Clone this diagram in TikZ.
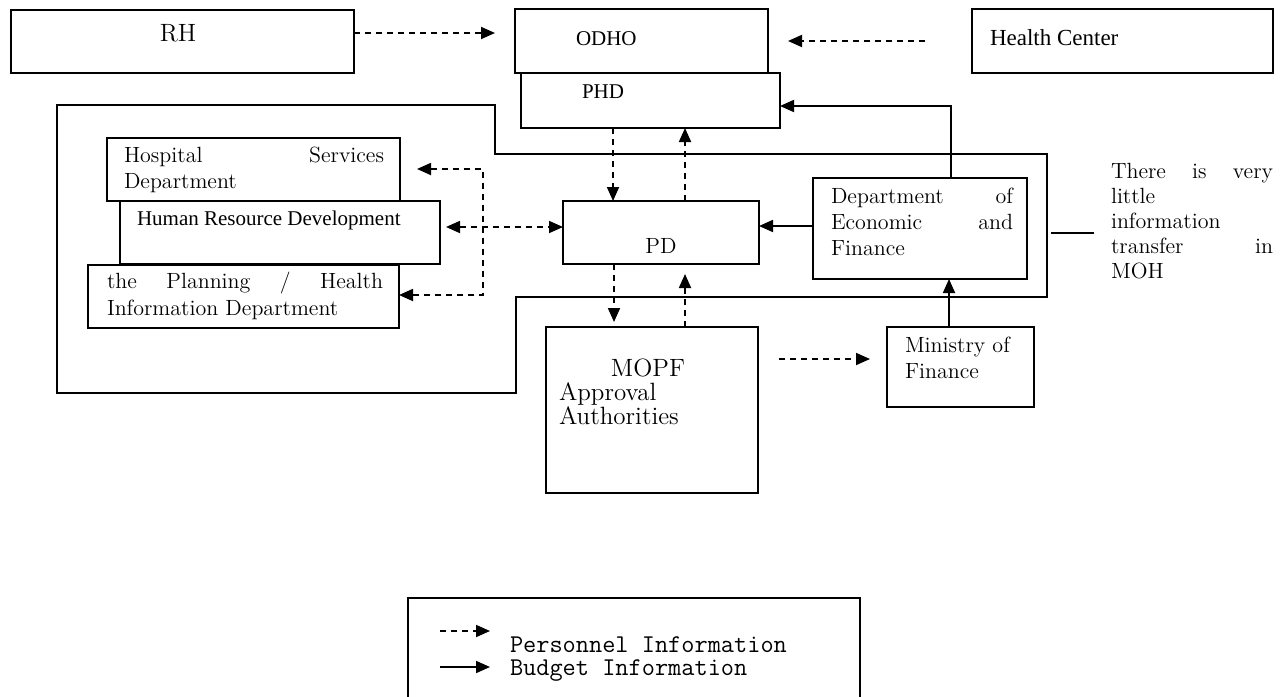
\documentclass[tikz,border=0pt]{standalone}
\usepackage{fontspec}
\newfontfamily\timesf{Liberation Serif}
\usetikzlibrary{arrows.meta,fit}
% justified text block: width, baselineskip, text (first baseline = node base)
\newcommand\lblock[3]{\parbox[t]{#1}{\fontsize{11}{#2}\selectfont #3}}
\begin{document}
\begin{tikzpicture}[x=0.5pt,y=-0.5pt,
  >={Triangle[length=7pt,width=6pt]},
  box/.style={draw, line width=0.9pt, inner sep=0pt, outer sep=0pt},
  conn/.style={line width=0.9pt, ->},
  pers/.style={conn, dash pattern=on 3pt off 2.5pt},
  budg/.style={conn},
  txt/.style={inner sep=0pt, outer sep=0pt, anchor=base west},
  tms/.style={txt, font=\timesf\fontsize{10.5}{12.5}\selectfont},
]
\useasboundingbox (0,0) rectangle (1284,696);
\clip (0,0) rectangle (1284,696);

% ---------- boxes ----------
\node[box, fit={(11,10)(354,73)}] (rh) {};
\node[box, fit={(515,9)(768,73)}] (odho) {};
\node[box, fit={(521,73)(780,128)}] (phd) {};
\node[box, fit={(972,9)(1273,73)}] (hc) {};
\node[box, fit={(107,138)(400,201)}] (hosp) {};
\node[box, fit={(120,201)(440,264)}] (hrd) {};
\node[box, fit={(88,265)(399,328)}] (plan) {};
\node[box, fit={(563,201)(759,264)}] (pd) {};
\node[box, fit={(813,178)(1027,279)}] (ef) {};
\node[box, fit={(546,327)(758,493)}] (mopf) {};
\node[box, fit={(887,327)(1034,407)}] (mof) {};
\node[box, fit={(408,598)(860,706)}] (legend) {};

% ---------- texts ----------
\node[inner sep=0pt, anchor=base, font=\fontsize{12.5}{14}\selectfont] (rh-t) at (178,41) {RH};
\node[tms] (odho-t) at (576,45) {ODHO};
\node[tms] (phd-t) at (582,98) {PHD};
\node[tms, font=\timesf\fontsize{11.5}{13}\selectfont] (hc-t) at (990,46) {Health Center};
\node[txt] (hosp-t) at (124,162) {\lblock{130pt}{13pt}{Hospital\hfill Services\newline Department}};
\node[tms] (hrd-t) at (137,225) {Human Resource Development};
\node[txt] (plan-t) at (107,288) {\lblock{138pt}{13.5pt}{the\hfill Planning\hfill /\hfill Health\newline Information Department}};
\node[inner sep=0pt, anchor=base, font=\fontsize{11}{13}\selectfont] (pd-t) at (661,253) {PD};
\node[txt] (ef-t) at (831,203) {\lblock{91pt}{13pt}{Department\hfill of\newline Economic\hfill and\newline Finance}};
\node[txt] (mof-t) at (905,352) {\lblock{70pt}{13pt}{Ministry of\newline Finance}};
\node[inner sep=0pt, anchor=base, font=\fontsize{12.5}{13}\selectfont] (mopf-t) at (648,376) {MOPF};
\node[txt] (mopf-t2) at (559,400) {\parbox[t]{72pt}{\fontsize{12.5}{10.5}\selectfont Approval\newline Authorities}};
\node[txt] (note) at (1111,178) {\lblock{81pt}{12.5pt}{There\hfill is\hfill very\newline little\newline information\newline transfer\hfill in\newline MOH}};

% ---------- MOH boundary ----------
\draw[line width=0.9pt] (57,105) -- (495,105) -- (495,154) -- (1047,154) -- (1047,297)
  -- (516,297) -- (516,393) -- (57,393) -- cycle;
\coordinate (moh-e) at (1051,233);
\draw[line width=0.9pt, shorten >=8.5pt] (moh-e) -- (moh-e -| note.west);

% ---------- personnel information ----------
\draw[pers, shorten >=10pt] ([yshift=4.25pt]rh.east) -- ([yshift=4.25pt]rh.east -| odho.west);
\draw[pers, shorten <=23.5pt, shorten >=10pt] (hc.west) -- (hc.west -| odho.east);
\draw[pers] ([xshift=-24pt]pd.north |- phd.south) -- ([xshift=-24pt]pd.north);
\draw[pers] ([xshift=12pt]pd.north) -- ([xshift=12pt]pd.north |- phd.south);
\draw[pers, shorten >=2.5pt] ([xshift=-23.5pt]pd.south) -- ([xshift=-23.5pt]pd.south |- mopf.north);
\draw[pers, shorten >=5pt] ([xshift=12pt]pd.south |- mopf.north) -- ([xshift=12pt]pd.south);
\draw[pers, <->, shorten <=3pt] ([yshift=2.75pt]hrd.east) -- ([yshift=2.75pt]hrd.east -| pd.west);
\coordinate (br-t) at (483,169);
\coordinate (br-b) at (483,295);
\draw[pers, <->, shorten <=8.5pt] (br-t -| hosp.east) -- (br-t) -- (br-b) -- (br-b -| plan.east);
\draw[pers, shorten <=10.5pt, shorten >=8.5pt] ([yshift=4pt]mof.west -| mopf.east) -- ([yshift=4pt]mof.west);

% ---------- budget information ----------
\draw[budg] ([yshift=1.25pt]ef.west) -- ([yshift=1.25pt]ef.west -| pd.east);
\draw[budg] ([xshift=15.5pt]ef.north) |- ([yshift=-2.75pt]phd.east);
\draw[budg] ([xshift=-5.75pt]mof.north) -- ([xshift=-5.75pt]mof.north |- ef.south);

% ---------- legend ----------
\coordinate (lg-a1) at (440,631);
\coordinate (lg-a2) at (490,631);
\coordinate (lg-b1) at (440,667);
\coordinate (lg-b2) at (490,667);
\draw[pers] (lg-a1) -- (lg-a2);
\draw[budg] (lg-b1) -- (lg-b2);
\node[txt, font=\ttfamily\fontsize{12.8}{14}\selectfont] (lg-p) at (510,652) {Personnel Information};
\node[txt, font=\ttfamily\fontsize{12.8}{14}\selectfont] (lg-b) at (510,675) {Budget Information};
\end{tikzpicture}
\end{document}
